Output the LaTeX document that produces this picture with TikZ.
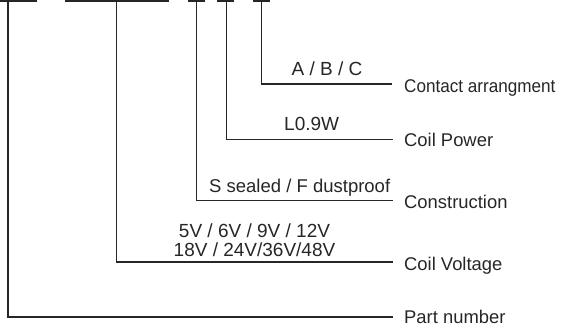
\documentclass[tikz,border=0pt]{standalone}
\usepackage{fontspec}
\setmainfont{Liberation Sans}
\newfontfamily\tightfont[FakeStretch=0.93]{Liberation Sans}
\begin{document}
\begin{tikzpicture}[x=1pt,y=-1pt,
  conn/.style={draw=black!85, line width=1.2pt},
  bar/.style={draw=black!85, line width=1.2pt},
  lbl/.style={inner sep=0pt, anchor=base west, font=\fontsize{18.4}{22}\selectfont, text=black!85},
  val/.style={inner sep=0pt, anchor=base, font=\fontsize{19}{22}\selectfont, text=black!85}]
\useasboundingbox (0,0) rectangle (561,329);
% top bars
\draw[bar] (0,1) -- (37,1);
\draw[bar] (65,1) -- (169,1);
\draw[bar] (188,1) -- (205,1);
\draw[bar] (217,1) -- (234,1);
\draw[bar] (253,1) -- (270,1);
% tick coordinates
\coordinate (t1) at (8,1);
\coordinate (t2) at (116.5,1);
\coordinate (t3) at (196.5,1);
\coordinate (t4) at (226.5,1);
\coordinate (t5) at (261.5,1);
% line ends
\coordinate (e5) at (392,84);
\coordinate (e4) at (393,139.5);
\coordinate (e3) at (393,200.5);
\coordinate (e2) at (393,262);
\coordinate (e1) at (393,317);
% connectors
\draw[conn] (t5) |- (e5);
\draw[conn] (t4) |- (e4);
\draw[conn] (t3) |- (e3);
\draw[conn] (t2) |- (e2);
\draw[conn] (t1) |- (e1);
% labels
\node[lbl, font=\tightfont\fontsize{18.4}{22}\selectfont] (l5) at (404,92.7) {Contact arrangment};
\node[lbl] (l4) at (404,146.7) {Coil Power};
\node[lbl] (l3) at (404,208) {Construction};
\node[lbl] (l2) at (404,270.7) {Coil Voltage};
\node[lbl] (l1) at (404,323) {Part number};
% values
\node[val] (v5) at (327,75.7) {A / B / C};
\node[val] (v4) at (311.7,130) {L0.9W};
\node[val, anchor=base west, font=\fontsize{18.5}{22}\selectfont] (v3) at (209,192.7) {S sealed / F dustproof};
\node[val] (v2a) at (254.5,237) {5V / 6V / 9V / 12V};
\node[val] (v2b) at (254.5,256.7) {18V / 24V/36V/48V};
\end{tikzpicture}
\end{document}
